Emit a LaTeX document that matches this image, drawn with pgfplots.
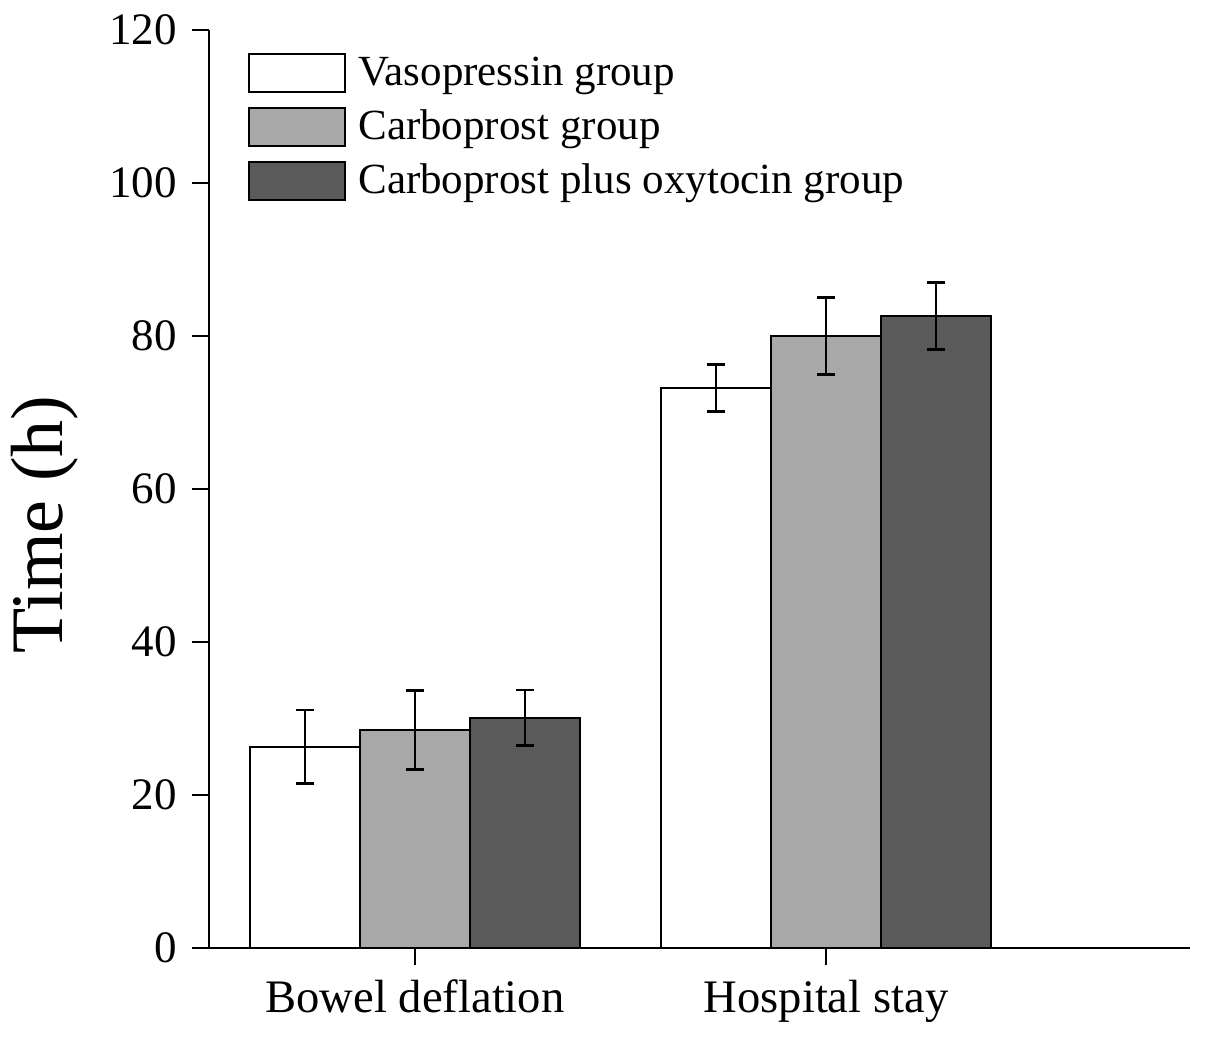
\documentclass[border=0pt]{standalone}
\usepackage{pgfplots}
\pgfplotsset{compat=1.18}
\usepackage{fontspec}
\setmainfont{Liberation Serif}
\definecolor{barlight}{RGB}{168,168,168}
\definecolor{bardark}{RGB}{90,90,90}
\begin{document}
\begin{tikzpicture}
\path[use as bounding box] (-104.5pt,-45pt) rectangle (498pt,474pt);
\begin{axis}[
  at={(0,0)}, anchor=south west,
  scale only axis, width=490.5pt, height=459pt,
  xmin=-0.5012, xmax=1.8856, ymin=0, ymax=120,
  axis lines*=left,
  axis line style={line width=1pt, black},
  ytick={0,20,40,60,80,100,120},
  xtick={0,1}, xticklabels={Bowel deflation, Hospital stay},
  tick align=outside, major tick length=8.5pt,
  tick style={line width=1pt, black},
  minor tick num=0,
  /pgf/number format/assume math mode=true,
  yticklabel style={font=\fontsize{22.5}{25}\selectfont, xshift=-4pt},
  xticklabel style={font=\fontsize{23.3}{26}\selectfont, yshift=-4pt},
  ylabel={Time (h)},
  ylabel style={at={(axis description cs:-0.167,0.461)}, anchor=center, font=\fontsize{37}{40}\selectfont},
  ybar, bar width=0.2676,
  legend image code/.code={\draw[#1, line width=1pt] (0pt,-10pt) rectangle (48pt,9pt);},
  legend style={at={(0,1)}, anchor=north west, xshift=19.5pt, yshift=-11.5pt,
    draw=none, fill=none, inner sep=0pt, row sep=6.8pt, column sep=6pt,
    font=\fontsize{21.5}{24}\selectfont, nodes={inner sep=0pt}},
  legend cell align=left,
  error bars/error bar style={line width=1.3pt, black},
  error bars/error mark options={line width=1.3pt, black, mark size=4.5pt, rotate=90},
]
\addplot[fill=white, draw=black, line width=1pt, bar shift=-0.2676,
  error bars/.cd, y dir=both, y explicit]
  coordinates {(0,26.3) +- (0,4.8) (1,73.2) +- (0,3.05)};
\addlegendentry{Vasopressin group}
\addplot[fill=barlight, draw=black, line width=1pt, bar shift=0,
  error bars/.cd, y dir=both, y explicit]
  coordinates {(0,28.5) +- (0,5.15) (1,80.0) +- (0,5.0)};
\addlegendentry{Carboprost group}
\addplot[fill=bardark, draw=black, line width=1pt, bar shift=0.2676,
  error bars/.cd, y dir=both, y explicit]
  coordinates {(0,30.1) +- (0,3.6) (1,82.6) +- (0,4.4)};
\addlegendentry{Carboprost plus oxytocin group}
\end{axis}
\end{tikzpicture}
\end{document}
